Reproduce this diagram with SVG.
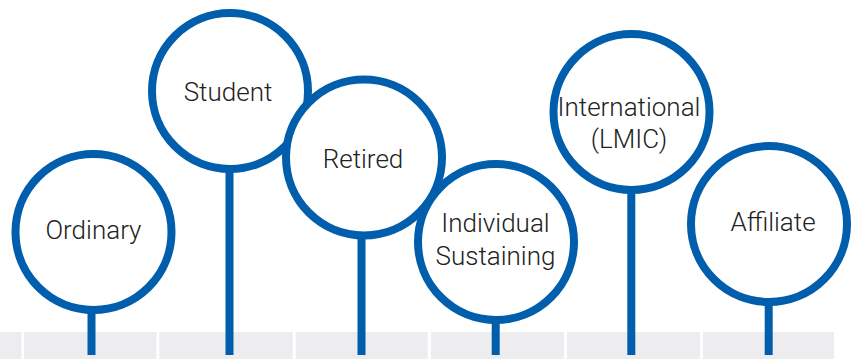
<svg xmlns="http://www.w3.org/2000/svg" width="862" height="359" viewBox="0 0 862 359">
<style>
.band{fill:#ededf0}
.stem{stroke:#005eac;stroke-width:8;fill:none}
.ring{fill:#fff;stroke:#005eac;stroke-width:8}
.lbl{font-family:Roboto,"Liberation Sans",sans-serif;font-weight:300;font-size:26px;fill:#222;text-anchor:middle}
</style>
<rect width="862" height="359" fill="#fff"/>
<g id="band">
<rect class="band" x="0" y="332" width="21.5" height="27"/>
<rect class="band" x="24" y="332" width="132.5" height="27"/>
<rect class="band" x="159.3" y="332" width="133.4" height="27"/>
<rect class="band" x="295.7" y="332" width="132" height="27"/>
<rect class="band" x="431" y="332" width="133" height="27"/>
<rect class="band" x="567" y="332" width="133" height="27"/>
<rect class="band" x="703" y="332" width="131" height="27"/>
</g>
<g id="connectors">
<line class="stem" x1="91.5" y1="300" x2="91.5" y2="355"/>
<line class="stem" x1="229.5" y1="160" x2="229.5" y2="355"/>
<line class="stem" x1="361.5" y1="225" x2="361.5" y2="355"/>
<line class="stem" x1="495.7" y1="310" x2="495.7" y2="355"/>
<line class="stem" x1="631.3" y1="180" x2="631.3" y2="355"/>
<line class="stem" x1="768.7" y1="290" x2="768.7" y2="355"/>
</g>
<g id="ordinary">
<circle class="ring" cx="93.5" cy="232" r="78"/>
<text class="lbl" x="93.5" y="239">Ordinary</text>
</g>
<g id="student">
<circle class="ring" cx="230" cy="91" r="78"/>
<text class="lbl" x="228" y="101">Student</text>
</g>
<g id="retired">
<circle class="ring" cx="364" cy="157.5" r="78"/>
<text class="lbl" x="363" y="168">Retired</text>
</g>
<g id="individual-sustaining">
<circle class="ring" cx="496" cy="242" r="78"/>
<text class="lbl" x="495.5" y="232">Individual</text>
<text class="lbl" x="495.5" y="264.5">Sustaining</text>
</g>
<g id="international-lmic">
<circle class="ring" cx="631.5" cy="112" r="78"/>
<text class="lbl" x="629" y="116">International</text>
<text class="lbl" x="629" y="148">(LMIC)</text>
</g>
<g id="affiliate">
<circle class="ring" cx="769" cy="224" r="78"/>
<text class="lbl" x="773" y="231">Affiliate</text>
</g>
</svg>
